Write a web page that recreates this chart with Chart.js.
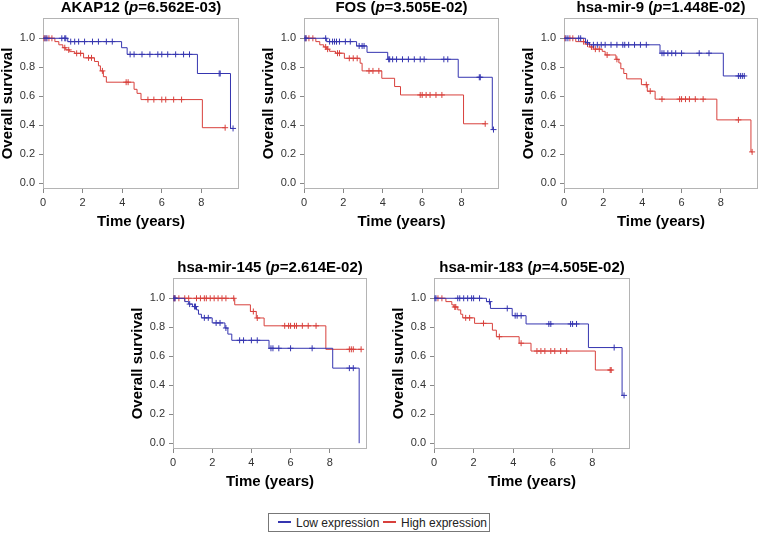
<!DOCTYPE html>
<html>
<head>
<meta charset="utf-8">
<script src="https://cdn.jsdelivr.net/npm/chart.js@4.4.1/dist/chart.umd.min.js"></script>
<style>
  body { margin: 0; background: #fff; font-family: "Liberation Sans", Arial, sans-serif; }
  #wrap { position: relative; width: 763px; height: 535px; overflow: hidden; }
  #wrap canvas { position: absolute; }
  #legend { position: absolute; left: 268px; top: 513px; width: 222px; height: 19px;
            border: 1px solid #777; box-sizing: border-box; font-size: 12px; color: #222; }
  #legend span.item { position: absolute; top: 2px; white-space: nowrap; }
  #legend i { display: inline-block; width: 13px; height: 0; border-top: 2px solid; vertical-align: 4px; margin-right: 5px; }
</style>
</head>
<body>
<div id="wrap">
  <canvas id="c0"></canvas>
  <canvas id="c1"></canvas>
  <canvas id="c2"></canvas>
  <canvas id="c3"></canvas>
  <canvas id="c4"></canvas>
  <div id="legend"></div>
</div>
<script>
// Panel titles
const genes = ["AKAP12", "FOS", "hsa-mir-9", "hsa-mir-145", "hsa-mir-183"];
const pValues = ["6.562E-03", "3.505E-02", "1.448E-02", "2.614E-02", "4.505E-02"];
const groups = ["Low expression", "High expression"];
const xTicks = [0, 2, 4, 6, 8];
const yTicks = [0, 0.2, 0.4, 0.6, 0.8, 1.0];

// AKAP12
const akapLowTimes = [1.25, 3.97, 4.25, 7.8, 9.47];
const akapLowSurv = [0.977, 0.935, 0.889, 0.757, 0.378];
const akapLowCensor = [0.1, 0.2, 0.95, 1.1, 1.15, 1.4, 1.6, 1.8, 2.1, 2.5, 2.8, 3.2, 3.5, 4.4, 4.6, 5.0, 5.4, 5.8, 6.0, 6.3, 6.7, 7.1, 7.4, 8.9, 8.95, 9.6];
const akapHighTimes = [0.6, 0.8, 1.0, 1.15, 1.35, 1.6, 2.05, 2.6, 2.8, 2.9, 3.05, 3.2, 4.6, 4.75, 4.95, 8.05];
const akapHighSurv = [0.977, 0.955, 0.935, 0.92, 0.908, 0.896, 0.865, 0.84, 0.81, 0.775, 0.735, 0.697, 0.648, 0.62, 0.577, 0.383];
const akapHighCensor = [0.05, 0.15, 0.3, 0.45, 1.1, 1.3, 1.7, 1.9, 2.3, 2.45, 3.0, 4.2, 4.3, 5.3, 5.6, 6.0, 6.2, 6.6, 7.0, 9.2];

// FOS
const fosLowTimes = [1.15, 2.67, 3.2, 4.25, 7.83, 9.56];
const fosLowSurv = [0.977, 0.947, 0.903, 0.855, 0.731, 0.37];
const fosLowCensor = [0.05, 0.1, 1.1, 1.3, 1.45, 1.55, 1.65, 1.8, 2.1, 2.35, 2.8, 2.95, 3.05, 4.3, 4.35, 4.5, 4.7, 5.0, 5.3, 5.6, 5.9, 6.1, 7.1, 7.3, 8.9, 8.95, 9.62];
const fosHighTimes = [0.6, 0.8, 1.0, 1.15, 1.3, 1.6, 2.05, 2.85, 2.95, 3.95, 4.6, 4.9, 8.1];
const fosHighSurv = [0.977, 0.955, 0.94, 0.925, 0.91, 0.897, 0.862, 0.828, 0.775, 0.724, 0.667, 0.609, 0.41];
const fosHighCensor = [0.1, 0.25, 0.45, 1.1, 1.2, 1.7, 1.8, 2.3, 2.5, 2.7, 3.3, 3.5, 3.8, 5.9, 6.0, 6.2, 6.4, 6.7, 7.0, 9.2];

// hsa-mir-9
const mir9LowTimes = [1.1, 1.3, 4.9, 8.13];
const mir9LowSurv = [0.97, 0.955, 0.897, 0.74];
const mir9LowCensor = [0.1, 0.2, 0.75, 0.85, 1.2, 1.5, 1.7, 1.9, 2.1, 2.4, 2.7, 3.0, 3.1, 3.3, 3.6, 3.9, 4.2, 5.0, 5.1, 5.3, 5.5, 5.7, 6.0, 6.9, 7.4, 8.9, 9.0, 9.1, 9.2];
const mir9HighTimes = [0.6, 1.1, 1.3, 1.5, 1.95, 2.1, 2.65, 2.8, 2.9, 3.05, 3.2, 3.95, 4.25, 4.65, 7.8, 9.54];
const mir9HighSurv = [0.977, 0.96, 0.94, 0.925, 0.91, 0.885, 0.855, 0.83, 0.79, 0.757, 0.72, 0.68, 0.635, 0.58, 0.437, 0.216];
const mir9HighCensor = [0.05, 0.3, 0.45, 1.0, 1.2, 1.4, 1.6, 1.8, 2.2, 2.7, 4.2, 4.4, 5.0, 5.9, 6.0, 6.2, 6.4, 6.7, 7.1, 8.9, 9.6];

// hsa-mir-145
const mir145LowTimes = [0.6, 0.8, 1.0, 1.2, 1.3, 1.45, 2.0, 2.65, 2.8, 3.0, 4.9, 8.15, 9.5];
const mir145LowSurv = [0.977, 0.96, 0.943, 0.92, 0.89, 0.865, 0.83, 0.795, 0.753, 0.71, 0.655, 0.518, 0.0];
const mir145LowCensor = [0.05, 0.1, 0.85, 1.1, 1.15, 1.6, 1.8, 2.2, 2.4, 2.7, 3.4, 3.6, 4.0, 4.3, 5.0, 5.1, 5.4, 6.0, 7.1, 9.0, 9.2];
const mir145HighTimes = [3.15, 3.95, 4.25, 4.65, 7.8];
const mir145HighSurv = [0.955, 0.909, 0.864, 0.81, 0.648];
const mir145HighCensor = [0.05, 0.1, 0.3, 0.6, 0.8, 1.2, 1.4, 1.6, 1.7, 1.9, 2.1, 2.3, 2.5, 2.7, 3.1, 4.1, 4.3, 5.7, 5.9, 6.0, 6.2, 6.3, 6.6, 6.9, 7.3, 9.0, 9.1, 9.2, 9.6];

// hsa-mir-183
const mir183LowTimes = [2.65, 2.85, 3.95, 4.65, 7.8, 9.5];
const mir183LowSurv = [0.977, 0.93, 0.88, 0.823, 0.66, 0.33];
const mir183LowCensor = [0.05, 0.1, 1.2, 1.3, 1.5, 1.7, 1.9, 2.0, 2.3, 2.8, 3.7, 4.1, 4.2, 4.4, 5.8, 5.9, 6.9, 7.0, 7.2, 9.1, 9.6];
const mir183HighTimes = [0.6, 0.9, 1.0, 1.2, 1.35, 1.45, 2.05, 2.95, 3.15, 4.3, 4.9, 8.15];
const mir183HighSurv = [0.977, 0.955, 0.94, 0.92, 0.89, 0.865, 0.827, 0.78, 0.735, 0.69, 0.636, 0.505];
const mir183HighCensor = [0.2, 0.4, 1.05, 1.1, 1.6, 1.8, 2.5, 3.3, 4.4, 5.2, 5.4, 5.6, 5.9, 6.1, 6.4, 6.7, 8.9, 8.95];

const panelData = [
  [[akapLowTimes, akapLowSurv, akapLowCensor], [akapHighTimes, akapHighSurv, akapHighCensor]],
  [[fosLowTimes, fosLowSurv, fosLowCensor], [fosHighTimes, fosHighSurv, fosHighCensor]],
  [[mir9LowTimes, mir9LowSurv, mir9LowCensor], [mir9HighTimes, mir9HighSurv, mir9HighCensor]],
  [[mir145LowTimes, mir145LowSurv, mir145LowCensor], [mir145HighTimes, mir145HighSurv, mir145HighCensor]],
  [[mir183LowTimes, mir183LowSurv, mir183LowCensor], [mir183HighTimes, mir183HighSurv, mir183HighCensor]],
];

// layout: plot box position on the page
const boxes = [
  { left: 43, top: 18, width: 197 },
  { left: 304, top: 18, width: 196 },
  { left: 564, top: 18, width: 195 },
  { left: 173, top: 278, width: 195 },
  { left: 434, top: 278, width: 197 },
];
const colors = ["#3535b0", "#d8403c"];
const FONT = "'Liberation Sans', Arial, sans-serif";
const Y_AXIS_W = 43, X_AXIS_H = 42, PAD_TOP = 18, BOX_H = 171;

// survival value of the step function at time t
function stepValue(times, surv, t) {
  let s = 1;
  for (let i = 0; i < times.length; i++) {
    if (times[i] <= t) s = surv[i];
  }
  return s;
}

function curvePoints(times, surv, censor) {
  const pts = [{ x: 0, y: 1 }];
  times.forEach((t, i) => pts.push({ x: t, y: surv[i] }));
  const end = Math.max(...censor, ...times);
  pts.push({ x: end, y: stepValue(times, surv, end) });
  return pts;
}

// grey box round the plot area
const framePlugin = {
  id: 'frame',
  beforeDatasetsDraw(chart) {
    const { ctx, chartArea: a } = chart;
    ctx.save();
    ctx.strokeStyle = '#b4b4b4';
    ctx.lineWidth = 1;
    ctx.strokeRect(Math.round(a.left) + 0.5, Math.round(a.top) + 0.5,
      Math.round(a.right - a.left) - 1, Math.round(a.bottom - a.top) - 1);
    ctx.restore();
  }
};

// title with italic p
const titlePlugin = {
  id: 'kmTitle',
  afterDraw(chart, args, opts) {
    const { ctx, chartArea: a } = chart;
    const parts = [
      { text: opts.gene + ' (', font: 'bold 15px ' + FONT },
      { text: 'p', font: 'italic bold 15px ' + FONT },
      { text: '=' + opts.p + ')', font: 'bold 15px ' + FONT },
    ];
    ctx.save();
    let total = 0;
    parts.forEach(p => { ctx.font = p.font; p.w = ctx.measureText(p.text).width; total += p.w; });
    let x = (a.left + a.right) / 2 - total / 2;
    ctx.fillStyle = '#000';
    ctx.textBaseline = 'middle';
    parts.forEach(p => { ctx.font = p.font; ctx.fillText(p.text, x, 8); x += p.w; });
    ctx.restore();
  }
};

panelData.forEach((groupData, i) => {
  const box = boxes[i];
  const canvas = document.getElementById('c' + i);
  canvas.width = Y_AXIS_W + box.width + 4;
  canvas.height = PAD_TOP + BOX_H + X_AXIS_H;
  canvas.style.left = (box.left - Y_AXIS_W) + 'px';
  canvas.style.top = (box.top - PAD_TOP) + 'px';

  const datasets = [];
  groupData.forEach(([times, surv, censor], g) => {
    datasets.push({
      label: groups[g],
      data: curvePoints(times, surv, censor),
      borderColor: colors[g],
      borderWidth: 1,
      stepped: true,
      pointRadius: 0,
      fill: false,
    });
    datasets.push({
      label: groups[g] + ' censored',
      data: censor.map(t => ({ x: t, y: stepValue(times, surv, t) })),
      showLine: false,
      borderColor: colors[g],
      pointStyle: 'cross',
      pointRadius: 3,
      pointBorderWidth: 1,
    });
  });

  new Chart(canvas, {
    type: 'line',
    data: { datasets },
    options: {
      responsive: false,
      animation: false,
      layout: { padding: { top: PAD_TOP, right: 4, left: 0, bottom: 0 } },
      plugins: {
        legend: { display: false },
        tooltip: { enabled: false },
        kmTitle: { gene: genes[i], p: pValues[i] },
      },
      scales: {
        x: {
          type: 'linear',
          min: 0,
          max: 9.9,
          afterBuildTicks: s => { s.ticks = xTicks.map(v => ({ value: v })); },
          afterFit: s => { s.height = X_AXIS_H; },
          grid: { drawOnChartArea: false, drawTicks: true, tickLength: 4, color: '#888' },
          border: { display: false },
          ticks: { color: '#333', font: { family: FONT, size: 11 }, padding: 3, maxRotation: 0 },
          title: { display: true, text: 'Time (years)', color: '#000',
                   font: { family: FONT, size: 15, weight: 'bold', lineHeight: 1.2 }, padding: 0 },
        },
        y: {
          min: -0.04,
          max: 1.14,
          afterBuildTicks: s => { s.ticks = yTicks.map(v => ({ value: v })); },
          afterFit: s => { s.width = Y_AXIS_W; },
          grid: { drawOnChartArea: false, drawTicks: true, tickLength: 4, color: '#888' },
          border: { display: false },
          ticks: { color: '#333', font: { family: FONT, size: 11 }, padding: 4,
                   callback: v => v.toFixed(1) },
          title: { display: true, text: 'Overall survival', color: '#000',
                   font: { family: FONT, size: 15, weight: 'bold', lineHeight: 1 }, padding: 0 },
        },
      },
    },
    plugins: [framePlugin, titlePlugin],
  });
});

// legend below the panels
const legend = document.getElementById('legend');
const legendX = [9, 114];
groups.forEach((name, g) => {
  const item = document.createElement('span');
  item.className = 'item';
  item.style.left = legendX[g] + 'px';
  item.innerHTML = '<i style="border-color:' + colors[g] + '"></i>' + name;
  legend.appendChild(item);
});
</script>
</body>
</html>
